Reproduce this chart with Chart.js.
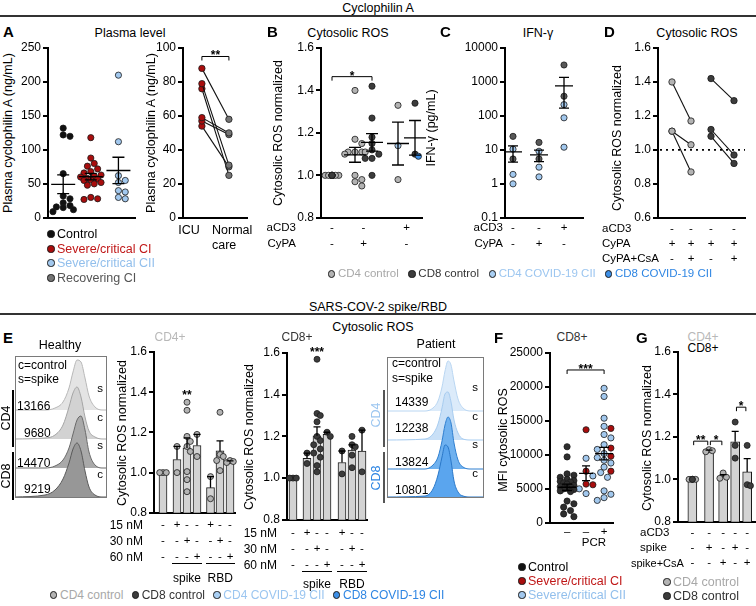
<!DOCTYPE html>
<html>
<head>
<meta charset="utf-8">
<title>Cyclophilin A</title>
<script src="https://cdn.jsdelivr.net/npm/chart.js@4.4.1/dist/chart.umd.min.js"></script>
<style>
  body { margin: 0; background: #fff; }
  #fig { position: relative; width: 756px; height: 606px; overflow: hidden; background: #fff;
         font-family: "Liberation Sans", Arial, sans-serif; color: #000; }
  #fig canvas { position: absolute; }
  .t { position: absolute; white-space: nowrap; line-height: 1; font-size: 11.5px; }
  .ln { position: absolute; background: #000; }
  .dot { position: absolute; border-radius: 50%; border: 0.8px solid #1a1a1a; box-sizing: border-box; }
  .box { position: absolute; border: 1px solid #7a7a7a; box-sizing: border-box; }
</style>
</head>
<body>
<div id="fig"></div>
<script>
// ---------- data ----------
// A: plasma cyclophilin A (ng/mL)
const plasmaTicks = [0, 50, 100, 150, 200, 250];
const plasmaControl = [132, 122, 120, 65, 32, 28, 22, 18, 16, 15, 12, 9];
const plasmaSevereCI = [118, 88, 80, 76, 72, 68, 66, 63, 61, 60, 58, 57, 56, 55, 52, 50, 48, 30, 28, 27];
const plasmaSevereCII = [210, 112, 62, 55, 52, 40, 38, 30, 28];
const pairedTicks = [0, 20, 40, 60, 80, 100];
const pairedICU = [88, 79, 76, 59, 57, 54];
const pairedNormalCare = [58, 31, 25, 50, 49, 30];

// B: cytosolic ROS normalized
const rosTicks = [0.8, 1.0, 1.2, 1.4, 1.6];
const rosCtrlCD4 = [1, 1, 1, 1, 1, 1];
const rosCtrlCD8 = [1, 1, 1, 1, 1, 1];
const rosCypaCD4 = [1.40, 1.17, 1.15, 1.11, 1.11, 1.11, 1.11, 1.10, 1.00, 0.98, 0.97, 0.95];
const rosCypaCD8 = [1.42, 1.27, 1.18, 1.15, 1.12, 1.10, 1.08, 1.08, 1.00];
const rosCD3CD4 = [1.33, 0.98];
const rosCD3CD4Covid = [1.14];
const rosCD3CD8 = [1.34, 1.10];
const rosCD3CD8Covid = [1.09];
const bCD3 = ['-', '-', '+'];
const bCyPA = ['-', '+', '-'];

// C: IFN-gamma (pg/mL)
const ifnTicks = [0.1, 1, 10, 100, 1000, 10000];
const ifnBaseCtrl = [25, 5.4];
const ifnBaseCovid = [10.5, 1.9, 1.0];
const ifnCypaCtrl = [16.6, 5.4];
const ifnCypaCovid = [9.1, 3.1, 1.6];
const ifnCD3Ctrl = [3160, 380];
const ifnCD3Covid = [215, 88, 12];
const cCD3 = ['-', '-', '+'];
const cCyPA = ['-', '+', '-'];

// D: paired cytosolic ROS, CyPA vs CyPA+CsA
const rosTicksD = [0.6, 0.8, 1.0, 1.2, 1.4, 1.6];
const dCypaCD4 = [1.40, 1.11, 1.11];
const dCsaCD4 = [1.17, 1.03, 0.87];
const dCypaCD8 = [1.42, 1.12, 1.08];
const dCsaCD8 = [1.29, 0.97, 0.92];
const dCD3 = ['-', '-', '-', '-'];
const dCyPA = ['+', '+', '+', '+'];
const dCsA = ['-', '+', '-', '+'];

// E: histograms (MFI) and spike/RBD bars
const healthyMFI = ['13166', '9680', '14470', '9219'];
const patientMFI = ['14339', '12238', '13824', '10801'];
const histXHealthy = [0, 30, 40, 48, 54, 58, 62, 66, 70, 74, 80, 88, 92];
const hCD4s = [0, 0, 2, 8, 22, 38, 50, 48, 32, 14, 3, 0, 0];
const hCD4c = [0, 1, 4, 14, 32, 46, 52, 42, 22, 8, 2, 0, 0];
const hCD8s = [0, 0, 2, 8, 20, 34, 48, 52, 38, 16, 3, 0, 0];
const hCD8c = [0, 2, 7, 18, 34, 48, 54, 46, 26, 10, 2, 0, 0];
const histXPatient = [0, 38, 46, 51, 55, 58, 61, 64, 67, 71, 76, 84, 97];
const pCD4s = [0, 0, 3, 10, 24, 40, 50, 46, 30, 12, 3, 0, 0];
const pCD4c = [0, 1, 6, 16, 32, 46, 48, 38, 20, 7, 1, 0, 0];
const pCD8s = [0, 0, 4, 12, 28, 44, 52, 46, 26, 9, 2, 0, 0];
const pCD8c = [0, 1, 8, 22, 40, 52, 50, 36, 16, 5, 1, 0, 0];

const e4Ctrl = [1, 1, 1];
const e4Spike15 = [1.13, 1.0];
const e4Spike30 = [1.35, 1.31, 1.18, 1.155, 1.13, 1.105, 1.005, 0.965, 0.905];
const e4Spike60 = [1.19, 1.08];
const e4Rbd15 = [0.98, 0.87];
const e4Rbd30 = [1.30, 1.09, 1.08, 1.06, 1.01];
const e4Rbd60 = [1.06, 1.05, 1.055];
const e8Ctrl = [1, 1, 1];
const e8Spike15 = [1.12, 1.07];
const e8Spike30 = [1.57, 1.31, 1.30, 1.27, 1.20, 1.18, 1.16, 1.14, 1.12, 1.10, 1.06, 1.03];
const e8Spike60 = [1.22, 1.20];
const e8Rbd15 = [1.13, 1.02];
const e8Rbd30 = [1.20, 1.16, 1.15, 1.11, 1.05];
const e8Rbd60 = [1.23, 1.03];
const e15 = ['-', '+', '-', '-', '+', '-', '-'];
const e30 = ['-', '-', '+', '-', '-', '+', '-'];
const e60 = ['-', '-', '-', '+', '-', '-', '+'];

// F: MFI cytosolic ROS, CD8+
const mfiTicks = [0, 5000, 10000, 15000, 20000, 25000];
const fControl = [11200, 9700, 7200, 7000, 6700, 6400, 6200, 6100, 6000, 5900, 5700, 5500, 5300,
                  5300, 5100, 5000, 4900, 4700, 4600, 2800, 2300, 1800, 1300, 900, 3200];
const fPcrNegCI = [13700, 7600, 5700, 5600];
const fPcrNegCII = [9500, 6900, 5000, 4300];
const fPcrPosCI = [13900, 11000, 9800, 7600];
const fPcrPosCII = [19800, 18600, 15400, 14200, 13000, 12500, 11500, 10800, 10200, 9600, 9200,
                    8800, 8200, 7400, 6700, 4700, 4200, 3700, 3300];
const fPCR = ['\u2013', '\u2013', '+'];

// G: spike +/- CsA
const gCtrlCD4 = [1, 1, 1];
const gCtrlCD8 = [1, 1];
const gSpikeCD4 = [1.14, 1.135, 1.13];
const gSpikeCsaCD4 = [1.03, 1.01, 1.005];
const gSpikeCD8 = [1.27, 1.16, 1.10];
const gSpikeCsaCD8 = [1.16, 0.975, 0.97];
const gCD3 = ['-', '-', '-', '-', '-'];
const gSpike = ['-', '+', '-', '+', '-'];
const gCsA = ['-', '-', '+', '-', '+'];

// ---------- helpers ----------
const FONT = '"Liberation Sans", Arial, sans-serif';
Chart.defaults.font.family = FONT;
Chart.defaults.font.size = 12;
Chart.defaults.color = '#000';
const TITLE = 12.5;   // axis and panel titles

const COL = {
  black: '#111111', ctrlF: '#2e2e2e', red: '#a80d0d', lblue: '#a2c8ee', cd4: '#b3b3b3', cd8: '#3c3c3c',
  covid4: '#a9cff3', covid8: '#3d8fe6', recov: '#747474', ifnDark: '#585858'
};
const TXT = { red: '#c01818', lblue: '#92bfec', gray: '#a8a8a8', covid4: '#9cc6f0', covid8: '#2f86e3', recov: '#555' };

const fig = document.getElementById('fig');
const mean = a => a.reduce((s, v) => s + v, 0) / a.length;
const sem = a => {
  const m = mean(a);
  return Math.sqrt(a.reduce((s, v) => s + (v - m) * (v - m), 0) / (a.length - 1) / a.length);
};

function txt(s, x, y, o = {}) {
  const d = document.createElement('div');
  d.className = 't';
  d.textContent = s;
  d.style.left = x + 'px';
  d.style.top = y + 'px';
  if (o.size) d.style.fontSize = o.size + 'px';
  if (o.bold) d.style.fontWeight = 'bold';
  if (o.color) d.style.color = o.color;
  const ax = o.align === 'left' ? '0' : o.align === 'right' ? '-100%' : '-50%';
  d.style.transform = 'translate(' + ax + ',-50%)' + (o.rot ? ' rotate(-90deg)' : '');
  fig.appendChild(d);
  return d;
}
function line(x, y, w, h, color) {
  const d = document.createElement('div');
  d.className = 'ln';
  Object.assign(d.style, { left: x + 'px', top: y + 'px', width: w + 'px', height: h + 'px' });
  if (color) d.style.background = color;
  fig.appendChild(d);
}
function dot(x, y, color, r = 3.6) {
  const d = document.createElement('div');
  d.className = 'dot';
  Object.assign(d.style, { left: (x - r) + 'px', top: (y - r) + 'px', width: 2 * r + 'px', height: 2 * r + 'px', background: color });
  fig.appendChild(d);
}
function legend(items, size) {
  items.forEach(([x, y, label, fill, color]) => {
    dot(x, y, fill);
    txt(label, x + 6, y, { align: 'left', color, size });
  });
}
// one-line legend spread evenly between x0 and x1
function legendRow(x0, x1, y, items, size) {
  const els = items.map(([label, fill, color]) => txt(label, 0, y, { align: 'left', color, size }));
  const widths = els.map(e => e.offsetWidth + 10);
  const gap = (x1 - x0 - widths.reduce((a, b) => a + b, 0)) / (items.length - 1);
  let x = x0;
  els.forEach((e, i) => {
    dot(x + 3.6, y, items[i][1]);
    e.style.left = (x + 10) + 'px';
    x += widths[i] + gap;
  });
}

// mean/SEM, error bars, brackets and stars drawn through the chart scales
const marks = new Map();
const markPlugin = {
  id: 'marks',
  afterDatasetsDraw(chart) {
    const m = marks.get(chart.canvas);
    if (!m) return;
    const { ctx, chartArea } = chart;
    const xs = chart.scales.x, ys = chart.scales.y;
    const X = v => xs.getPixelForValue(v), Y = v => ys.getPixelForValue(v);
    ctx.save();
    ctx.strokeStyle = '#000';
    ctx.fillStyle = '#000';
    ctx.lineWidth = 1.3;
    if (m.ref != null) {
      ctx.save();
      ctx.setLineDash([2, 4]);
      ctx.lineWidth = 1.8;
      ctx.beginPath();
      ctx.moveTo(chartArea.left + 2, Y(m.ref));
      ctx.lineTo(chartArea.right, Y(m.ref));
      ctx.stroke();
      ctx.restore();
    }
    (m.means || []).forEach(g => {
      const mu = mean(g.v), s = sem(g.v), cx = X(g.x);
      const lo = Math.max(mu - s, ys.min);
      ctx.beginPath();
      ctx.moveTo(cx - g.hw, Y(mu)); ctx.lineTo(cx + g.hw, Y(mu));
      ctx.moveTo(cx, Y(mu + s)); ctx.lineTo(cx, Y(lo));
      ctx.moveTo(cx - g.cap, Y(mu + s)); ctx.lineTo(cx + g.cap, Y(mu + s));
      ctx.moveTo(cx - g.cap, Y(lo)); ctx.lineTo(cx + g.cap, Y(lo));
      ctx.stroke();
    });
    (m.errs || []).forEach(g => {
      if (g.v.length < 2) return;
      const mu = mean(g.v), s = sem(g.v), cx = X(g.x);
      if (s < 1e-6) return;
      ctx.beginPath();
      ctx.moveTo(cx, Y(mu)); ctx.lineTo(cx, Y(mu + s));
      ctx.moveTo(cx - g.cap, Y(mu + s)); ctx.lineTo(cx + g.cap, Y(mu + s));
      ctx.stroke();
    });
    ctx.font = 'bold 12px ' + FONT;
    ctx.textAlign = 'center';
    ctx.textBaseline = 'alphabetic';
    (m.brackets || []).forEach(b => {
      const y = Y(b.y), x1 = X(b.x1), x2 = X(b.x2);
      ctx.lineWidth = 1;
      ctx.beginPath();
      ctx.moveTo(x1, y + 4); ctx.lineTo(x1, y); ctx.lineTo(x2, y); ctx.lineTo(x2, y + 4);
      ctx.stroke();
      ctx.fillText(b.t, (x1 + x2) / 2, y + 3);
    });
    (m.stars || []).forEach(s => ctx.fillText(s.t, X(s.x), Y(s.y) + 7));
    ctx.restore();
  }
};

function plot(b, datasets, mk) {
  const padT = 10, padB = 8, padR = 6;
  const left = b.axisX - b.yw;
  const w = Math.round(b.right - b.axisX + b.yw + padR);
  const h = Math.round(b.bottom - b.top + padT + padB);
  const c = document.createElement('canvas');
  c.width = w; c.height = h;
  c.style.left = left + 'px';
  c.style.top = (b.top - padT) + 'px';
  fig.appendChild(c);
  if (mk) marks.set(c, mk);
  const ch = new Chart(c, {
    type: 'scatter',
    data: { datasets },
    options: {
      responsive: false, animation: false, devicePixelRatio: 1,
      layout: { padding: { top: padT, bottom: padB, right: padR, left: 0 } },
      plugins: { legend: { display: false }, tooltip: { enabled: false } },
      scales: {
        x: {
          type: 'linear', min: b.xmin, max: b.xmax, offset: false,
          ticks: { display: false }, grid: { display: false, offset: false },
          border: { display: true, width: 2, color: '#000' },
          afterFit: s => { s.height = 0; }
        },
        y: {
          type: b.log ? 'logarithmic' : 'linear',
          min: b.ticks[0], max: b.ticks[b.ticks.length - 1],
          grid: { drawOnChartArea: false, drawTicks: true, tickLength: 5, color: '#000', lineWidth: 2 },
          border: { display: true, width: 2, color: '#000' },
          ticks: { padding: 2, autoSkip: false, color: '#000', font: { size: 12 }, callback: b.fmt || (v => String(v)) },
          afterBuildTicks: s => { s.ticks = b.ticks.map(v => ({ value: v })); },
          afterFit: s => { s.width = b.yw; }
        }
      }
    },
    plugins: [markPlugin]
  });
  ch.px = v => left + ch.scales.x.getPixelForValue(v);
  return ch;
}

// simple beeswarm: horizontal offsets so points do not overlap
function swarm(vals, yPx, xPx, maxOff, d) {
  const step = d * 0.55;
  const cands = [0];
  for (let k = 1; k * step <= maxOff + 0.01; k++) cands.push(k * step, -k * step);
  const order = vals.map((v, i) => i).sort((a, b) => vals[b] - vals[a]);
  const placed = [];
  const off = new Array(vals.length).fill(0);
  order.forEach(i => {
    const py = yPx(vals[i]);
    let best = 0, bestGap = -1;
    for (const c of cands) {
      let gap = Infinity;
      placed.forEach(p => { gap = Math.min(gap, Math.hypot(p.x - c, p.y - py)); });
      if (gap >= d) { best = c; break; }
      if (gap > bestGap) { bestGap = gap; best = c; }
    }
    placed.push({ x: best, y: py });
    off[i] = best / xPx;
  });
  return off;
}

function swarmSet(b, x, parts, maxOff, r = 3.1) {
  const vals = [], cols = [];
  parts.forEach(([arr, col]) => arr.forEach(v => { vals.push(v); cols.push(col); }));
  const xPx = (b.right - b.axisX) / (b.xmax - b.xmin);
  const span = b.bottom - b.top;
  const lo = b.ticks[0], hi = b.ticks[b.ticks.length - 1];
  const yPx = b.log ? v => Math.log10(v) * span / (Math.log10(hi) - Math.log10(lo))
                    : v => v * span / (hi - lo);
  const offs = swarm(vals, yPx, xPx, maxOff, r * 2);
  return {
    type: 'scatter', data: vals.map((v, i) => ({ x: x + offs[i], y: v })),
    pointBackgroundColor: cols, pointBorderColor: '#1a1a1a', pointBorderWidth: 0.8,
    pointRadius: r, clip: false, order: 0
  };
}

function pairSets(x1, x2, a, bvals, cols) {
  return a.map((v, i) => ({
    type: 'line', data: [{ x: x1, y: v }, { x: x2, y: bvals[i] }],
    borderColor: '#111', borderWidth: 1.1, showLine: true, fill: false,
    pointBackgroundColor: cols, pointBorderColor: '#1a1a1a', pointBorderWidth: 0.8,
    pointRadius: 3.2, clip: false, order: 0
  }));
}

function barSet(xs, groups, thick) {
  return {
    type: 'bar', data: xs.map((x, i) => ({ x, y: mean(groups[i]) })),
    backgroundColor: '#d3d3d3', borderColor: '#1a1a1a', borderWidth: 1,
    barThickness: thick, order: 2
  };
}

function histo(box, xs, curves, bases, fills, strokes) {
  const c = document.createElement('canvas');
  c.width = box.w; c.height = box.h;
  c.style.left = box.x + 'px'; c.style.top = box.y + 'px';
  fig.appendChild(c);
  new Chart(c, {
    type: 'line',
    data: {
      datasets: curves.map((hs, i) => ({
        data: xs.map((x, j) => ({ x, y: bases[i] + hs[j] })),
        fill: { value: bases[i] }, backgroundColor: fills[i], borderColor: strokes[i],
        borderWidth: 1, pointRadius: 0, cubicInterpolationMode: 'monotone', order: 4 - i, clip: false
      }))
    },
    options: {
      responsive: false, animation: false, devicePixelRatio: 1, layout: { padding: 0 },
      plugins: { legend: { display: false }, tooltip: { enabled: false } },
      scales: {
        x: { type: 'linear', display: false, min: 0, max: box.w },
        y: { display: false, min: 0, max: box.h }
      }
    }
  });
  const d = document.createElement('div');
  d.className = 'box';
  Object.assign(d.style, { left: box.x + 'px', top: box.y + 'px', width: box.w + 'px', height: box.h + 'px' });
  fig.appendChild(d);
}

const fmt1 = v => v.toFixed(1);

// ---------- section headers ----------
txt('Cyclophilin A', 378, 8, { size: TITLE });
line(0, 15, 756, 1.6, '#333');
txt('SARS-COV-2 spike/RBD', 378, 307, { size: TITLE });
line(0, 313, 756, 1.6, '#333');
txt('Cytosolic ROS', 373, 327, { size: TITLE });

// ---------- A ----------
txt('A', 3, 31, { align: 'left', bold: true, size: 15 });
txt('Plasma level', 130, 33, { size: TITLE });
const bA1 = { axisX: 48, top: 48, bottom: 219, right: 135, yw: 32, xmin: -0.55, xmax: 2.6, ticks: plasmaTicks };
plot(bA1, [
  swarmSet(bA1, 0, [[plasmaControl, COL.black]], 12),
  swarmSet(bA1, 1, [[plasmaSevereCI, COL.red]], 12),
  swarmSet(bA1, 2, [[plasmaSevereCII, COL.lblue]], 12)
], { means: [plasmaControl, plasmaSevereCI, plasmaSevereCII].map((v, i) => ({ x: i, v, hw: 12, cap: 6 })) });
txt('Plasma cyclophilin A (ng/mL)', 8, 133, { rot: true, size: TITLE });
legend([
  [51, 234, 'Control', COL.black, '#000'],
  [51, 249, 'Severe/critical CI', COL.red, TXT.red],
  [51, 263, 'Severe/critical CII', COL.lblue, TXT.lblue],
  [51, 278, 'Recovering CI', COL.recov, TXT.recov]
], 12.5);

const bA2 = { axisX: 183, top: 48, bottom: 219, right: 247, yw: 30, xmin: -0.7, xmax: 1.67, ticks: pairedTicks };
plot(bA2, pairSets(0, 1, pairedICU, pairedNormalCare, [COL.red, COL.recov]),
  { brackets: [{ x1: 0, x2: 1, y: 95, t: '**' }] });
txt('Plasma cyclophilin A (ng/mL)', 151, 133, { rot: true, size: TITLE });
txt('ICU', 189, 230, { size: 12.5 });
txt('Normal', 212, 230, { align: 'left', size: 12.5 });
txt('care', 212, 245, { align: 'left', size: 12.5 });

// ---------- B ----------
txt('B', 267, 31, { align: 'left', bold: true, size: 15 });
txt('Cytosolic ROS', 348, 33, { size: TITLE });
const bB = { axisX: 321, top: 48, bottom: 219, right: 422, yw: 32, xmin: 0, xmax: 5.05, ticks: rosTicks, fmt: fmt1 };
const posB = [0.55, 1.7, 2.55, 3.85, 4.7];
const chB = plot(bB, [
  swarmSet(bB, posB[0], [[rosCtrlCD4, COL.cd4], [rosCtrlCD8, COL.cd8]], 8),
  swarmSet(bB, posB[1], [[rosCypaCD4, COL.cd4]], 11),
  swarmSet(bB, posB[2], [[rosCypaCD8, COL.cd8]], 11),
  swarmSet(bB, posB[3], [[rosCD3CD4, COL.cd4], [rosCD3CD4Covid, COL.covid4]], 6),
  swarmSet(bB, posB[4], [[rosCD3CD8, COL.cd8], [rosCD3CD8Covid, COL.covid8]], 6)
], {
  means: [
    { x: posB[1], v: rosCypaCD4, hw: 11, cap: 6 },
    { x: posB[2], v: rosCypaCD8, hw: 11, cap: 6 },
    { x: posB[3], v: rosCD3CD4.concat(rosCD3CD4Covid), hw: 11, cap: 6 },
    { x: posB[4], v: rosCD3CD8.concat(rosCD3CD8Covid), hw: 11, cap: 6 }
  ],
  brackets: [{ x1: posB[0], x2: posB[2], y: 1.465, t: '*' }]
});
txt('Cytosolic ROS normalized', 278, 133, { rot: true, size: TITLE });
txt('aCD3', 296, 228, { align: 'right' });
txt('CyPA', 296, 244, { align: 'right' });
const colB = [posB[0], (posB[1] + posB[2]) / 2, (posB[3] + posB[4]) / 2];
colB.forEach((p, i) => { txt(bCD3[i], chB.px(p), 228); txt(bCyPA[i], chB.px(p), 244); });

// ---------- C ----------
txt('C', 440, 31, { align: 'left', bold: true, size: 15 });
txt('IFN-\u03b3', 538, 33, { size: TITLE });
const bC = { axisX: 505, top: 48, bottom: 219, right: 583, yw: 40, xmin: 0, xmax: 3.12, ticks: ifnTicks, log: true };
const posC = [0.32, 1.36, 2.36];
const chC = plot(bC, [
  swarmSet(bC, posC[0], [[ifnBaseCtrl, COL.ifnDark], [ifnBaseCovid, COL.lblue]], 3),
  swarmSet(bC, posC[1], [[ifnCypaCtrl, COL.ifnDark], [ifnCypaCovid, COL.lblue]], 3),
  swarmSet(bC, posC[2], [[ifnCD3Ctrl, COL.ifnDark], [ifnCD3Covid, COL.lblue]], 3)
], {
  means: [
    { x: posC[0], v: ifnBaseCtrl.concat(ifnBaseCovid), hw: 9, cap: 5 },
    { x: posC[1], v: ifnCypaCtrl.concat(ifnCypaCovid), hw: 9, cap: 5 },
    { x: posC[2], v: ifnCD3Ctrl.concat(ifnCD3Covid), hw: 9, cap: 5 }
  ]
});
txt('IFN-\u03b3 (pg/mL)', 431, 128, { rot: true, size: TITLE });
txt('aCD3', 503, 228, { align: 'right' });
txt('CyPA', 503, 244, { align: 'right' });
posC.forEach((p, i) => { txt(cCD3[i], chC.px(p), 228); txt(cCyPA[i], chC.px(p), 244); });

// ---------- D ----------
txt('D', 604, 31, { align: 'left', bold: true, size: 15 });
txt('Cytosolic ROS', 697, 33, { size: TITLE });
const bD = { axisX: 658, top: 48, bottom: 219, right: 745, yw: 32, xmin: 0, xmax: 4.35, ticks: rosTicksD, fmt: fmt1 };
const posD = [0.7, 1.65, 2.65, 3.8];
const chD = plot(bD, [
  ...pairSets(posD[0], posD[1], dCypaCD4, dCsaCD4, COL.cd4),
  ...pairSets(posD[2], posD[3], dCypaCD8, dCsaCD8, COL.cd8)
], { ref: 1.0 });
txt('Cytosolic ROS normalized', 617, 138, { rot: true, size: TITLE });
txt('aCD3', 602, 229, { align: 'left' });
txt('CyPA', 602, 244, { align: 'left' });
txt('CyPA+CsA', 602, 259, { align: 'left' });
posD.forEach((p, i) => {
  txt(dCD3[i], chD.px(p), 229); txt(dCyPA[i], chD.px(p), 244); txt(dCsA[i], chD.px(p), 259);
});

legendRow(328, 712, 274, [
  ['CD4 control', COL.cd4, TXT.gray],
  ['CD8 control', COL.cd8, '#333'],
  ['CD4 COVID-19 CII', COL.covid4, TXT.covid4],
  ['CD8 COVID-19 CII', COL.covid8, TXT.covid8]
], 11.5);

// ---------- E: histograms ----------
txt('E', 3, 337, { align: 'left', bold: true, size: 15 });
txt('Healthy', 60, 345, { size: TITLE });
histo({ x: 15, y: 356, w: 92, h: 142 }, histXHealthy, [hCD4s, hCD4c, hCD8s, hCD8c], [88, 59, 30, 1],
  ['#e4e4e4', '#d2d2d2', '#a9a9a9', '#979797'], ['#b8b8b8', '#a5a5a5', '#6a6a6a', '#5a5a5a']);
txt('c=control', 18, 365, { align: 'left', size: 12 });
txt('s=spike', 18, 379, { align: 'left', size: 12 });
['s', 'c', 's', 'c'].forEach((s, i) => txt(s, 100, 389 + i * 28.5));
healthyMFI.forEach((s, i) => txt(s, i % 2 ? 24 : 17, [406, 433, 463, 489][i], { align: 'left', size: 12 }));
line(12, 390, 1.5, 57); line(12, 452, 1.5, 48);
txt('CD4', 6, 418, { rot: true, size: 12.5 });
txt('CD8', 6, 476, { rot: true, size: 12.5 });

txt('Patient', 436, 344, { size: TITLE });
histo({ x: 387, y: 357, w: 97, h: 141 }, histXPatient, [pCD4s, pCD4c, pCD8s, pCD8c], [87, 58, 29, 1],
  ['#dcebfa', '#c9e0f7', '#6fb1ef', '#5aa5ee'], ['#b9d6f2', '#a7ccf0', '#2f7fd0', '#2a78c9']);
txt('c=control', 392, 363, { align: 'left', size: 12 });
txt('s=spike', 392, 378, { align: 'left', size: 12 });
['s', 'c', 's', 'c'].forEach((s, i) => txt(s, 475, 388 + i * 28.5));
patientMFI.forEach((s, i) => txt(s, 395, [402, 428, 462, 490][i], { align: 'left', size: 12 }));
line(383, 390, 1.5, 57, '#555'); line(383, 452, 1.5, 51, '#555');
txt('CD4', 376, 415, { rot: true, size: 12.5, color: TXT.covid4 });
txt('CD8', 376, 478, { rot: true, size: 12.5, color: TXT.covid8 });

// ---------- E: CD4+ bars ----------
txt('CD4+', 170, 337, { color: '#b8b8b8', size: 12 });
const e4Groups = [e4Ctrl, e4Spike15, e4Spike30, e4Spike60, e4Rbd15, e4Rbd30, e4Rbd60];
const posE4 = [0.9, 2.3, 3.3, 4.3, 5.65, 6.6, 7.6];
const bE4 = { axisX: 154, top: 352, bottom: 514, right: 235, yw: 30, xmin: 0, xmax: 8.1, ticks: rosTicks, fmt: fmt1 };
const chE4 = plot(bE4, [
  barSet(posE4, e4Groups, 8),
  ...e4Groups.map((g, i) => swarmSet(bE4, posE4[i], [[g, COL.cd4]], 5, 3))
], { errs: posE4.map((x, i) => ({ x, v: e4Groups[i], cap: 3.5 })), stars: [{ x: posE4[2], y: 1.40, t: '**' }] });
txt('Cytosolic ROS normalized', 122, 433, { rot: true, size: TITLE });

// ---------- E: CD8+ bars ----------
txt('CD8+', 297, 337, { color: '#333', size: 12 });
const e8Groups = [e8Ctrl, e8Spike15, e8Spike30, e8Spike60, e8Rbd15, e8Rbd30, e8Rbd60];
const posE8 = [0.6, 2.0, 3.0, 4.0, 5.5, 6.5, 7.5];
const bE8 = { axisX: 287, top: 353, bottom: 521, right: 367, yw: 30, xmin: 0, xmax: 8.0, ticks: rosTicks, fmt: fmt1 };
const chE8 = plot(bE8, [
  barSet(posE8, e8Groups, 8),
  ...e8Groups.map((g, i) => swarmSet(bE8, posE8[i], [[g, COL.cd8]], 5, 3))
], { errs: posE8.map((x, i) => ({ x, v: e8Groups[i], cap: 3.5 })), stars: [{ x: posE8[2], y: 1.62, t: '***' }] });
txt('Cytosolic ROS normalized', 249, 437, { rot: true, size: TITLE });

function concRows(ch, pos, rowYs, labelX, ulY, lblY) {
  ['15 nM', '30 nM', '60 nM'].forEach((s, r) => txt(s, labelX, rowYs[r], { align: 'right', size: 12 }));
  [e15, e30, e60].forEach((row, r) => pos.forEach((p, i) => txt(row[i], ch.px(p), rowYs[r])));
  const sx1 = ch.px(pos[1]) - 5, sx2 = ch.px(pos[3]) + 5, rx1 = ch.px(pos[4]) - 5, rx2 = ch.px(pos[6]) + 5;
  line(sx1, ulY, sx2 - sx1, 1, '#000');
  line(rx1, ulY, rx2 - rx1, 1, '#000');
  txt('spike', (sx1 + sx2) / 2, lblY, { size: 12 });
  txt('RBD', (rx1 + rx2) / 2, lblY, { size: 12 });
}
concRows(chE4, posE4, [525, 541, 557], 143, 563, 578);
concRows(chE8, posE8, [533, 549, 565], 277, 571, 584);

legendRow(50, 444, 595, [
  ['CD4 control', COL.cd4, TXT.gray],
  ['CD8 control', COL.cd8, '#333'],
  ['CD4 COVID-19 CII', COL.covid4, TXT.covid4],
  ['CD8 COVID-19 CII', COL.covid8, TXT.covid8]
], 12);

// ---------- F ----------
txt('F', 494, 337, { align: 'left', bold: true, size: 15 });
txt('CD8+', 572, 337, { color: '#333', size: 12 });
const bF = { axisX: 550, top: 353, bottom: 524, right: 613, yw: 46, xmin: 0, xmax: 3.32, ticks: mfiTicks };
const posF = [0.9, 1.9, 2.85];
const chF = plot(bF, [
  swarmSet(bF, posF[0], [[fControl, COL.ctrlF]], 10),
  swarmSet(bF, posF[1], [[fPcrNegCI, COL.red], [fPcrNegCII, COL.lblue]], 7),
  swarmSet(bF, posF[2], [[fPcrPosCI, COL.red], [fPcrPosCII, COL.lblue]], 10)
], {
  means: [
    { x: posF[0], v: fControl, hw: 9, cap: 5 },
    { x: posF[1], v: fPcrNegCI.concat(fPcrNegCII), hw: 7, cap: 4 },
    { x: posF[2], v: fPcrPosCI.concat(fPcrPosCII), hw: 9, cap: 5 }
  ],
  brackets: [{ x1: posF[0], x2: posF[2], y: 22500, t: '***' }]
});
txt('MFI cytosolic ROS', 503, 440, { rot: true, size: TITLE });
posF.forEach((p, i) => txt(fPCR[i], chF.px(p), 532));
txt('PCR', 594, 543);
legend([
  [522, 567, 'Control', COL.black, '#000'],
  [522, 581, 'Severe/critical CI', COL.red, TXT.red],
  [522, 595, 'Severe/critical CII', COL.lblue, TXT.lblue]
], 12.5);

// ---------- G ----------
txt('G', 636, 337, { align: 'left', bold: true, size: 15 });
txt('CD4+', 703, 337, { color: '#b8b8b8', size: 12 });
txt('CD8+', 703, 348, { color: '#000', size: 12 });
const posG = [1.1, 2.38, 3.46, 4.38, 5.3];
const gParts = [
  [[gCtrlCD4, COL.cd4], [gCtrlCD8, COL.cd8]],
  [[gSpikeCD4, COL.cd4]],
  [[gSpikeCsaCD4, COL.cd4]],
  [[gSpikeCD8, COL.cd8]],
  [[gSpikeCsaCD8, COL.cd8]]
];
const gGroups = gParts.map(parts => parts.reduce((a, p) => a.concat(p[0]), []));
const bG = { axisX: 678, top: 352, bottom: 523, right: 755, yw: 30, xmin: 0, xmax: 5.9, ticks: rosTicks, fmt: fmt1 };
const chG = plot(bG, [
  barSet(posG, gGroups, 9),
  ...gParts.map((parts, i) => swarmSet(bG, posG[i], parts, 5, 3))
], {
  errs: posG.map((x, i) => ({ x, v: gGroups[i], cap: 3.5 })),
  brackets: [
    { x1: posG[0] + 0.1, x2: posG[1] - 0.1, y: 1.18, t: '**' },
    { x1: posG[1] + 0.1, x2: posG[2] - 0.1, y: 1.18, t: '*' },
    { x1: posG[3] + 0.1, x2: posG[4] - 0.1, y: 1.34, t: '*' }
  ]
});
txt('Cytosolic ROS normalized', 647, 438, { rot: true, size: TITLE });
txt('aCD3', 640, 533, { align: 'left' });
txt('spike', 640, 548, { align: 'left' });
txt('spike+CsA', 631, 563, { align: 'left', size: 11 });
posG.forEach((p, i) => {
  txt(gCD3[i], chG.px(p), 533); txt(gSpike[i], chG.px(p), 548); txt(gCsA[i], chG.px(p), 563);
});
legend([
  [667, 582, 'CD4 control', COL.cd4, TXT.gray],
  [667, 596, 'CD8 control', COL.cd8, '#333']
], 12.5);
</script>
</body>
</html>
